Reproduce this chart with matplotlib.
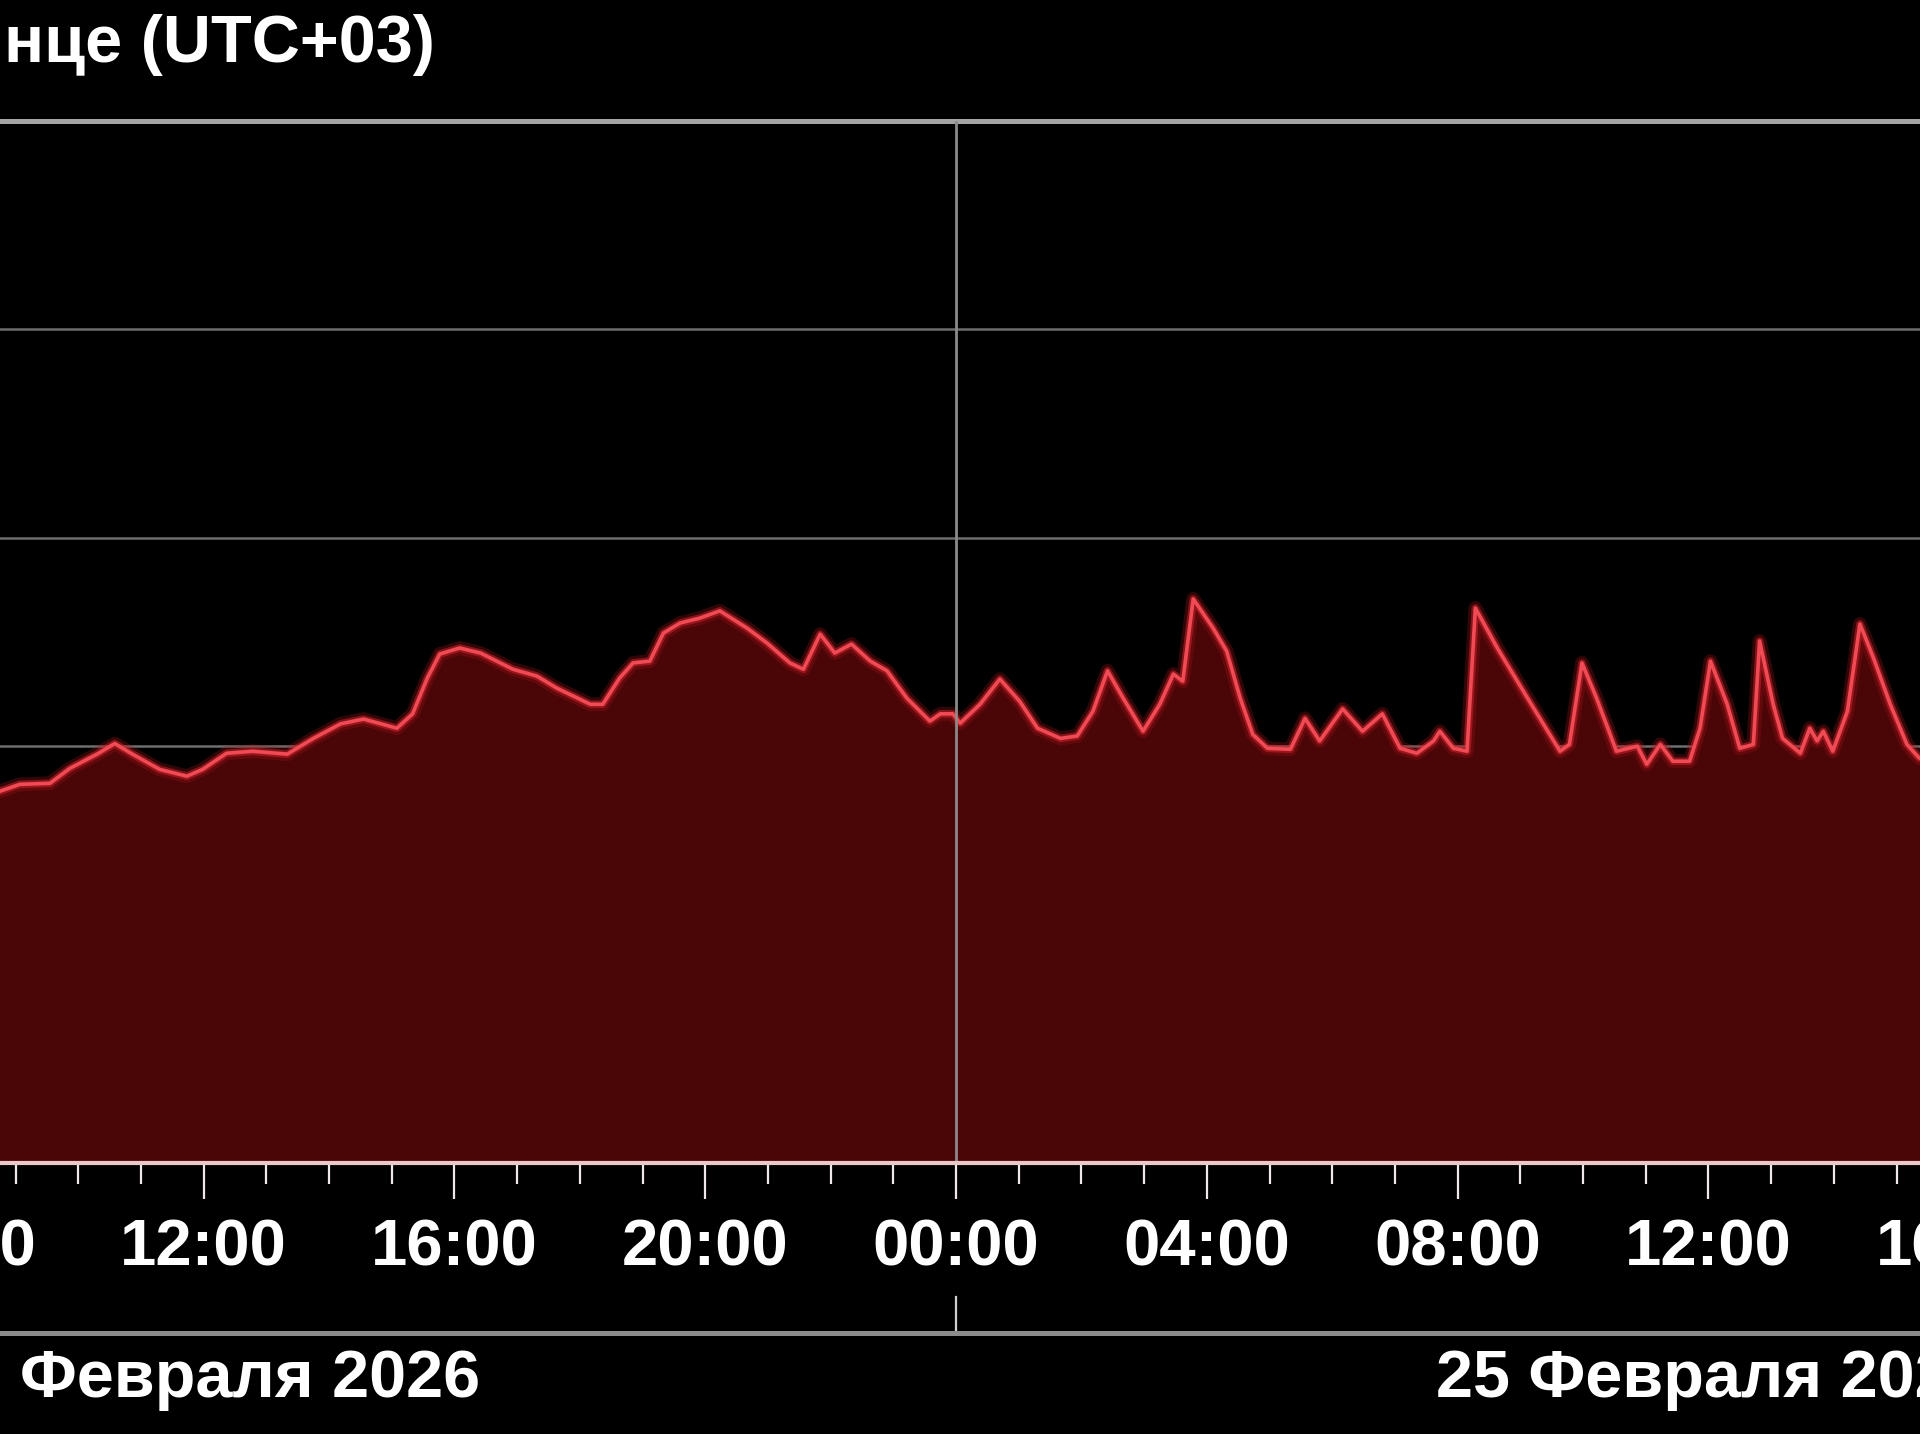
import matplotlib
matplotlib.use("Agg")
import matplotlib.pyplot as plt
import matplotlib.dates as mdates
import pandas as pd
from matplotlib.lines import Line2D
from matplotlib.transforms import blended_transform_factory

plt.rcParams['font.family'] = ['Liberation Sans', 'DejaVu Sans']

# X-ray flux, W/m^2 (local time UTC+03)
times_24 = ["08:30", "08:45", "09:04", "09:33", "09:52", "10:18", "10:35", "10:52",
            "11:18", "11:44", "11:59", "12:22", "12:47", "13:20", "13:45", "14:11",
            "14:33", "15:05", "15:20", "15:34", "15:46", "16:05", "16:25", "16:56",
            "17:19", "17:38", "18:10", "18:22", "18:38", "18:51", "19:07", "19:20",
            "19:36", "19:55", "20:14", "20:40", "20:59", "21:21", "21:34", "21:50",
            "22:04", "22:20", "22:38", "22:54", "23:13", "23:35", "23:45", "23:57"]
flux_24 = [6.0e-7, 6.08e-7, 6.56e-7, 6.64e-7, 7.83e-7, 9.16e-7, 1.03e-6, 9.16e-7,
           7.74e-7, 7.18e-7, 7.74e-7, 9.25e-7, 9.46e-7, 9.16e-7, 1.09e-6, 1.28e-6,
           1.35e-6, 1.22e-6, 1.43e-6, 2.12e-6, 2.77e-6, 2.96e-6, 2.80e-6, 2.34e-6,
           2.17e-6, 1.90e-6, 1.59e-6, 1.59e-6, 2.12e-6, 2.51e-6, 2.56e-6, 3.49e-6,
           3.90e-6, 4.12e-6, 4.46e-6, 3.69e-6, 3.13e-6, 2.51e-6, 2.34e-6, 3.45e-6,
           2.80e-6, 3.09e-6, 2.56e-6, 2.30e-6, 1.70e-6, 1.32e-6, 1.43e-6, 1.43e-6]

times_25 = ["00:04", "00:23", "00:42", "01:01", "01:18", "01:40", "01:56", "02:11",
            "02:25", "02:40", "02:59", "03:15", "03:28", "03:37", "03:47", "04:06",
            "04:19", "04:32", "04:44", "04:58", "05:20", "05:34", "05:48", "06:10",
            "06:29", "06:48", "07:05", "07:21", "07:37", "07:43", "07:56", "08:09",
            "08:17", "08:38", "09:07", "09:38", "09:47", "09:59", "10:13", "10:32",
            "10:52", "11:01", "11:14", "11:26", "11:42", "11:52", "12:02", "12:18",
            "12:30", "12:43", "12:49", "13:02", "13:11", "13:28", "13:37", "13:44",
            "13:50", "13:59", "14:13", "14:25", "14:38", "14:54", "15:10", "15:22",
            "15:40"]
flux_25 = [1.29e-6, 1.59e-6, 2.10e-6, 1.64e-6, 1.22e-6, 1.09e-6, 1.12e-6, 1.47e-6,
           2.30e-6, 1.70e-6, 1.18e-6, 1.59e-6, 2.22e-6, 2.05e-6, 5.09e-6, 3.69e-6,
           2.86e-6, 1.70e-6, 1.14e-6, 9.77e-7, 9.66e-7, 1.36e-6, 1.06e-6, 1.51e-6,
           1.18e-6, 1.43e-6, 9.77e-7, 9.25e-7, 1.06e-6, 1.18e-6, 9.77e-7, 9.46e-7,
           4.60e-6, 2.96e-6, 1.70e-6, 9.46e-7, 1.02e-6, 2.51e-6, 1.70e-6, 9.46e-7,
           1.00e-6, 8.19e-7, 1.02e-6, 8.47e-7, 8.47e-7, 1.22e-6, 2.56e-6, 1.59e-6,
           9.77e-7, 1.02e-6, 3.20e-6, 1.59e-6, 1.09e-6, 9.25e-7, 1.22e-6, 1.06e-6,
           1.18e-6, 9.46e-7, 1.47e-6, 3.86e-6, 2.65e-6, 1.59e-6, 1.02e-6, 8.75e-7,
           8.5e-7]

grid_levels = [1e-7, 1e-6, 1e-5, 1e-4]
title_text = "нце (UTC+03)"
day_labels = ["Февраля 2026", "25 Февраля 2026"]

t = pd.to_datetime(["2026-02-24 " + s for s in times_24] + ["2026-02-25 " + s for s in times_25])
flux = flux_24 + flux_25
midnight = pd.Timestamp("2026-02-25 00:00")

W, H = 1920, 1434
fig = plt.figure(figsize=(W / 100, H / 100), dpi=100, facecolor="black")

# axes run past the figure edges so the picture is cropped like the reference
x_lo, x_hi = -109.9, 2021.9
y_bot, y_top = 1163, 121
ax = fig.add_axes([x_lo / W, 1 - y_bot / H, (x_hi - x_lo) / W, (y_bot - y_top) / H])
ax.set_facecolor("black")
ax.set_xlim(pd.Timestamp("2026-02-24 07:00"), pd.Timestamp("2026-02-25 17:00"))
ax.set_yscale("log")
ax.set_ylim(1e-8, 1e-3)

for lvl in grid_levels:
    ax.axhline(lvl, color="#6e6e6e", lw=1.8, zorder=1)

ax.fill_between(t, flux, 1e-9, color="#4a0507", lw=0, zorder=2)
# soft glow under the flux line
ax.plot(t, flux, color="#a01418", lw=10, alpha=0.3, zorder=3, solid_joinstyle="round")
ax.plot(t, flux, color="#c8222a", lw=5.5, alpha=0.55, zorder=3, solid_joinstyle="round")
ax.plot(t, flux, color="#f04a55", lw=2.6, zorder=4, solid_joinstyle="round")
ax.axvline(midnight, color="#8a8a8a", lw=2, zorder=5)

for side in ["left", "right"]:
    ax.spines[side].set_visible(False)
ax.spines["top"].set_color("#a4a4a4")
ax.spines["top"].set_linewidth(3.6)
ax.spines["bottom"].set_color("#ecc8c8")
ax.spines["bottom"].set_linewidth(3)
ax.spines["bottom"].set_zorder(6)

ax.yaxis.set_visible(False)
ax.xaxis.set_major_locator(mdates.HourLocator(byhour=range(0, 24, 4)))
ax.xaxis.set_minor_locator(mdates.HourLocator())
ax.xaxis.set_major_formatter(mdates.DateFormatter("%H:%M"))
ax.tick_params(axis="x", which="major", direction="out", length=26, width=1.6,
               color="#f0e8e8", pad=14, labelsize=47, labelcolor="white")
ax.tick_params(axis="x", which="minor", direction="out", length=15, width=1.6,
               color="#f0e8e8")
for lab in ax.get_xticklabels():
    lab.set_fontweight("bold")

# lower rule with the day separator
y_rule = 1 - 1333 / H
fig.add_artist(Line2D([0, 1], [y_rule, y_rule], transform=fig.transFigure,
                      color="#8c8c8c", lw=3.6))
trans = blended_transform_factory(ax.transData, fig.transFigure)
ax.plot([midnight, midnight], [1 - 1297 / H, y_rule], transform=trans,
        color="#d0d0d0", lw=1.6, clip_on=False)

fig.text(20 / W, 1 - 1397 / H, day_labels[0], ha="left", va="baseline",
         fontsize=48, fontweight="bold", color="white")
fig.text(1436 / W, 1 - 1397 / H, day_labels[1], ha="left", va="baseline",
         fontsize=48, fontweight="bold", color="white")
fig.text(4 / W, 1 - 62 / H, title_text, ha="left", va="baseline",
         fontsize=48, fontweight="bold", color="white")

fig.savefig("out.png", dpi=100, facecolor="black")
